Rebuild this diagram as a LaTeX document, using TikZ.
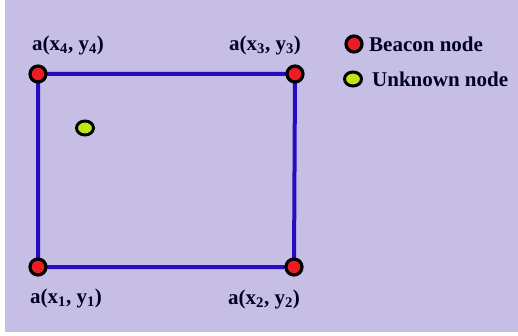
\documentclass[tikz,border=0pt]{standalone}
\usepackage{fontspec}
\setmainfont{Liberation Serif}
\definecolor{bgcol}{RGB}{198,190,228}
\definecolor{sidecol}{RGB}{38,12,190}
\definecolor{beaconcol}{RGB}{236,28,36}
\definecolor{unknowncol}{RGB}{190,230,20}
\tikzset{
  beacon/.style={circle,draw=black,line width=3.2pt,fill=beaconcol,minimum size=16pt,inner sep=0pt},
  unknown/.style={ellipse,draw=black,line width=3pt,fill=unknowncol,minimum width=17pt,minimum height=14pt,inner sep=0pt},
  lbl/.style={font=\fontsize{21}{24}\selectfont\bfseries,text=black!85!blue,inner sep=0pt}
}
\usetikzlibrary{shapes.geometric}
\begin{document}
\begin{tikzpicture}[x=1pt,y=-1pt]
    \useasboundingbox (0,0) rectangle (518,336);
    \fill[white] (0,0) rectangle (518,336);
    \fill[bgcol] (5,0) rectangle (518,332);
    % square sides
    \coordinate (c1) at (38,267);
    \coordinate (c2) at (294,267);
    \coordinate (c3) at (295,74);
    \coordinate (c4) at (38,74);
    \draw[sidecol,line width=4pt] (c1) -- (c2) -- (c3) -- (c4) -- cycle;
    % beacon nodes
    \node[beacon] (a1) at (c1) {};
    \node[beacon] (a2) at (c2) {};
    \node[beacon] (a3) at (c3) {};
    \node[beacon] (a4) at (c4) {};
    \node[unknown] (u) at (85,128) {};
    \node[lbl] (l4) at (68,45) {a(x\textsubscript{4}, y\textsubscript{4})};
    \node[lbl] (l3) at (265,45) {a(x\textsubscript{3}, y\textsubscript{3})};
    \node[lbl] (l1) at (66,298) {a(x\textsubscript{1}, y\textsubscript{1})};
    \node[lbl] (l2) at (264,299) {a(x\textsubscript{2}, y\textsubscript{2})};
    % legend
    \node[beacon] (kb) at (354,44) {};
    \node[unknown] (ku) at (353,79) {};
    \node[lbl,anchor=west] (tb) at (369,44) {Beacon node};
    \node[lbl,anchor=west] (tu) at (372,79) {Unknown node};
  \end{tikzpicture}
\end{document}
